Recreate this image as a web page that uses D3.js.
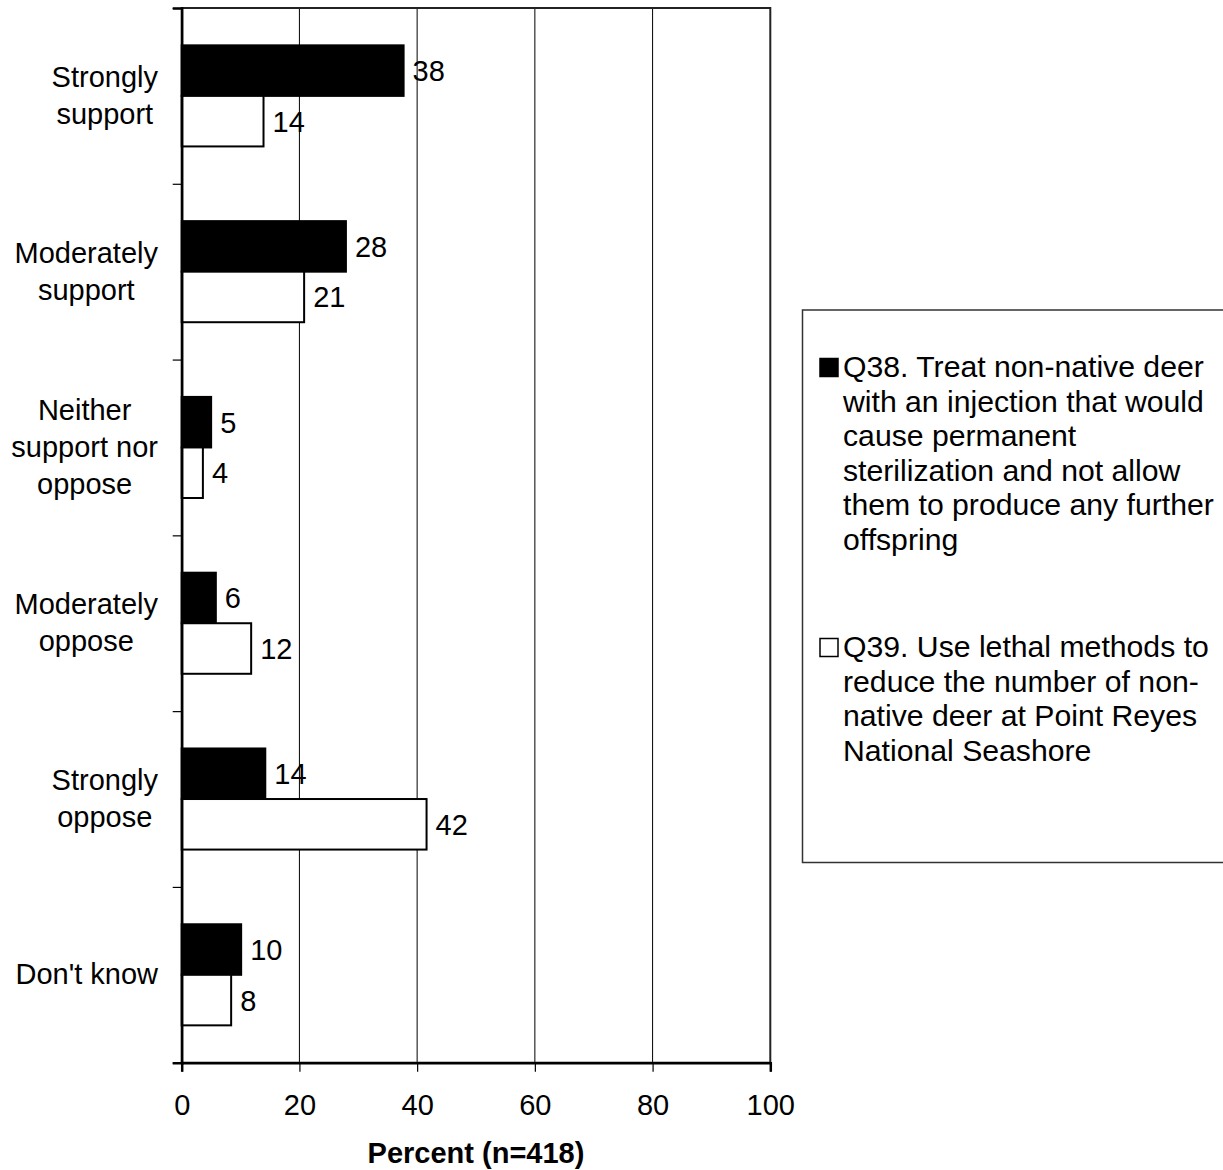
<!DOCTYPE html>
<html>
<head>
<meta charset="utf-8">
<script src="https://cdn.jsdelivr.net/npm/d3@7"></script>
<style>
  html, body { margin: 0; padding: 0; background: #fff; }
  svg { display: block; }
  text { font-family: "Liberation Sans", Arial, Helvetica, sans-serif; fill: #000; }
</style>
</head>
<body>
<svg id="chart" width="1223" height="1170"></svg>
<script>
// ---- Data ----
const categories = ["Strongly support", "Moderately support", "Neither support nor oppose", "Moderately oppose", "Strongly oppose", "Don't know"];
const categoryLines = [["Strongly", "support"], ["Moderately", "support"], ["Neither", "support nor", "oppose"], ["Moderately", "oppose"], ["Strongly", "oppose"], ["Don't know"]];
const seriesNames = ["Q38", "Q39"];
const q38Values = [37.7, 27.9, 5.0, 5.8, 14.2, 10.1];
const q39Values = [13.9, 20.8, 3.6, 11.8, 41.6, 8.4];
const q38Labels = ["38", "28", "5", "6", "14", "10"];
const q39Labels = ["14", "21", "4", "12", "42", "8"];
const xTicks = [0, 20, 40, 60, 80, 100];
const xTitle = "Percent (n=418)";
const legendQ38 = ["Q38. Treat non-native deer", "with an injection that would", "cause permanent", "sterilization and not allow", "them to produce any further", "offspring"];
const legendQ39 = ["Q39. Use lethal methods to", "reduce the number of non-", "native deer at Point Reyes", "National Seashore"];

// ---- Layout ----
const svg = d3.select("#chart");
const pLeft = 181.7, pRight = 770.3, pTop = 8, pBottom = 1062.7;
const fs = 29;

const x = d3.scaleLinear().domain([0, 100]).range([pLeft, pRight]);
const y = d3.scaleBand().domain(categories).range([pTop, pBottom]).paddingInner(0).paddingOuter(0);
const ySub = d3.scaleBand().domain(seriesNames).range([0, y.bandwidth()]).paddingInner(0).paddingOuter(0.739);

const rows = categories.map((c, i) => ({
  cat: c,
  vals: [
    { s: "Q38", v: q38Values[i], label: q38Labels[i], fill: "#000" },
    { s: "Q39", v: q39Values[i], label: q39Labels[i], fill: "#fff" }
  ]
}));

// gridlines
svg.append("g").selectAll("line").data(xTicks.filter(t => t > 0 && t < 100)).join("line")
  .attr("x1", d => x(d)).attr("x2", d => x(d))
  .attr("y1", pTop).attr("y2", pBottom)
  .attr("stroke", "#000").attr("stroke-width", 1);

// bars
const groups = svg.append("g").selectAll("g").data(rows).join("g")
  .attr("transform", d => `translate(0,${y(d.cat)})`);

groups.selectAll("rect").data(d => d.vals).join("rect")
  .attr("x", x(0))
  .attr("y", d => ySub(d.s))
  .attr("width", d => x(d.v) - x(0))
  .attr("height", ySub.bandwidth())
  .attr("fill", d => d.fill)
  .attr("stroke", "#000")
  .attr("stroke-width", 2);

groups.selectAll("text").data(d => d.vals).join("text")
  .attr("x", d => x(d.v) + 9)
  .attr("y", d => ySub(d.s) + ySub.bandwidth() / 2)
  .attr("dy", "0.36em")
  .attr("font-size", fs)
  .text(d => d.label);

// plot border
svg.append("rect")
  .attr("x", pLeft).attr("y", pTop)
  .attr("width", pRight - pLeft).attr("height", pBottom - pTop)
  .attr("fill", "none").attr("stroke", "#222").attr("stroke-width", 2);

// y axis ticks at band boundaries
const yEdge = d3.scaleLinear().domain([0, categories.length]).range([pTop, pBottom]);
const yAxis = svg.append("g").attr("transform", `translate(${pLeft},0)`)
  .call(d3.axisLeft(yEdge).tickValues(d3.range(0, categories.length + 1)).tickSize(9).tickFormat(""));
yAxis.select(".domain").attr("stroke", "#000").attr("stroke-width", 2.5);
yAxis.selectAll(".tick line").attr("stroke", "#000").attr("stroke-width", 1.2);

// x axis
const xAxis = svg.append("g").attr("transform", `translate(0,${pBottom})`)
  .call(d3.axisBottom(x).tickValues(xTicks).tickSize(9).tickPadding(23).tickFormat(d3.format("d")));
xAxis.select(".domain").attr("stroke", "#000").attr("stroke-width", 2.5);
xAxis.selectAll(".tick line").attr("stroke", "#000").attr("stroke-width", 1.2);
xAxis.selectAll(".tick text").attr("font-size", fs).attr("font-family", null).attr("fill", "#000");

// x title
svg.append("text")
  .attr("x", (pLeft + pRight) / 2).attr("y", 1163)
  .attr("text-anchor", "middle").attr("font-size", fs).attr("font-weight", "bold")
  .text(xTitle);

// category labels (wrapped, centered block, right aligned to axis)
const labelRight = 158, lineH = 37;
categories.forEach((c, i) => {
  const lines = categoryLines[i];
  const g = svg.append("g");
  const texts = lines.map(l => g.append("text").attr("font-size", fs).attr("text-anchor", "middle").text(l));
  const maxW = d3.max(texts, t => t.node().getComputedTextLength());
  const cx = labelRight - maxW / 2;
  const cy = y(c) + y.bandwidth() / 2;
  const n = lines.length;
  texts.forEach((t, j) => {
    t.attr("x", cx).attr("y", cy + (j - (n - 1) / 2) * lineH - 1).attr("dy", "0.36em");
  });
});

// legend
const lg = svg.append("g");
lg.append("rect").attr("x", 802.5).attr("y", 310).attr("width", 440).attr("height", 552.5)
  .attr("fill", "#fff").attr("stroke", "#333").attr("stroke-width", 1.5);
const legendItems = [
  { lines: legendQ38, fill: "#000", base: 377 },
  { lines: legendQ39, fill: "#fff", base: 657 }
];
const legLineH = 34.5, lfs = 30.2;
legendItems.forEach(it => {
  lg.append("rect").attr("x", 820).attr("y", it.base - 18.5).attr("width", 18).attr("height", 18)
    .attr("fill", it.fill).attr("stroke", "#000").attr("stroke-width", 1.5);
  it.lines.forEach((l, j) => {
    lg.append("text").attr("x", 843).attr("y", it.base + j * legLineH)
      .attr("font-size", lfs).text(l);
  });
});
</script>
</body>
</html>
